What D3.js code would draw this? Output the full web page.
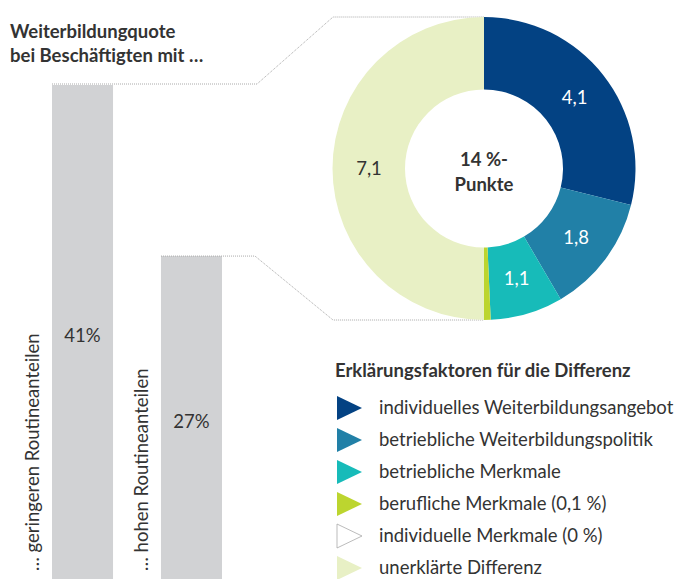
<!DOCTYPE html>
<html>
<head>
<meta charset="utf-8">
<script src="https://cdn.jsdelivr.net/npm/d3@7"></script>
<style>
  body { margin: 0; background: #fff; }
  text { font-family: "Source Sans Pro", "Lato", "Noto Sans", sans-serif; fill: #333; font-size: 18.5px; }
</style>
</head>
<body>
<script>
// bar data: quota by group
var groups = ["… geringeren Routineanteilen", "… hohen Routineanteilen"],
    quota = [41, 27];

// donut data: explanation factors for the difference
var factors = ["individuelles Weiterbildungsangebot", "betriebliche Weiterbildungspolitik",
               "betriebliche Merkmale", "berufliche Merkmale (0,1 %)",
               "individuelle Merkmale (0 %)", "unerklärte Differenz"],
    shares = [4.1, 1.8, 1.1, 0.1, 0, 7.1],
    colors = ["#034283", "#2180a7", "#17bbb9", "#bcd52f", "#ffffff", "#e8f0c5"];

var width = 681, height = 579;

var svg = d3.select("body").append("svg")
    .attr("width", width)
    .attr("height", height);

// title
svg.append("text")
    .attr("x", 10).attr("y", 38)
    .style("font-weight", "bold")
    .text("Weiterbildungquote");
svg.append("text")
    .attr("x", 10).attr("y", 62)
    .style("font-weight", "bold")
    .text("bei Beschäftigten mit  …");

// bars
var x = d3.scaleBand().domain(groups).range([52, 222]).paddingInner(0.44);
var y = d3.scaleLinear().domain([0, 41]).range([586, 85]);

svg.selectAll(".bar")
    .data(quota)
  .enter().append("rect")
    .attr("class", "bar")
    .attr("x", function(d, i) { return x(groups[i]); })
    .attr("y", function(d) { return y(d); })
    .attr("width", x.bandwidth())
    .attr("height", function(d) { return y(0) - y(d); })
    .style("fill", "#d1d2d4");

svg.selectAll(".barlabel")
    .data(quota)
  .enter().append("text")
    .attr("class", "barlabel")
    .attr("x", function(d, i) { return x(groups[i]) + x.bandwidth() / 2; })
    .attr("y", function(d, i) { return i == 0 ? 342 : 428; })
    .attr("text-anchor", "middle")
    .text(function(d) { return d + "%"; });

svg.selectAll(".grouplabel")
    .data(groups)
  .enter().append("text")
    .attr("class", "grouplabel")
    .attr("transform", function(d) { return "translate(" + (x(d) - 13) + ",571)rotate(-90)"; })
    .text(function(d) { return d; });

// donut
var cx = 484, cy = 168.5, outerR = 151.5, innerR = 79;

var pie = d3.pie().sort(null).value(function(d) { return d; });
var arc = d3.arc().innerRadius(innerR).outerRadius(outerR);
var labelArc = d3.arc().innerRadius(115).outerRadius(115);
var arcs = pie(shares);

// dotted connectors from the bars to the donut
var x0 = x(groups[0]), x1 = x(groups[1]);
var connectors = [
  [[x0, y(quota[0]) - 1], [257, y(quota[0]) - 1], [333, cy - outerR], [cx, cy - outerR]],
  [[x1, y(quota[1])], [255, y(quota[1])], [333, cy + outerR], [cx, cy + outerR]]
];
svg.selectAll(".connector")
    .data(connectors)
  .enter().append("path")
    .attr("class", "connector")
    .attr("d", d3.line())
    .style("fill", "none")
    .style("stroke", "#aaa")
    .style("stroke-width", 1)
    .style("stroke-dasharray", "1,1");

var donut = svg.append("g")
    .attr("transform", "translate(" + cx + "," + cy + ")");

donut.selectAll(".slice")
    .data(arcs)
  .enter().append("path")
    .attr("class", "slice")
    .attr("d", arc)
    .style("fill", function(d, i) { return colors[i]; });

donut.selectAll(".slicelabel")
    .data(arcs.filter(function(d) { return d.value >= 1; }))
  .enter().append("text")
    .attr("class", "slicelabel")
    .attr("transform", function(d) { return "translate(" + labelArc.centroid(d) + ")"; })
    .attr("text-anchor", "middle")
    .attr("dy", "0.35em")
    .style("fill", function(d) { return d.index == 5 ? "#333" : "#fff"; })
    .text(function(d) { return d3.format(".1f")(d.value).replace(".", ","); });

donut.append("text")
    .attr("text-anchor", "middle").attr("y", -3)
    .style("font-weight", "bold")
    .text("14 %-");
donut.append("text")
    .attr("text-anchor", "middle").attr("y", 22)
    .style("font-weight", "bold")
    .text("Punkte");

// legend
svg.append("text")
    .attr("x", 335).attr("y", 377)
    .style("font-weight", "bold")
    .text("Erklärungsfaktoren für die Differenz");

var ly = d3.scalePoint().domain(factors).range([408, 568]);

var legend = svg.selectAll(".legend")
    .data(factors)
  .enter().append("g")
    .attr("class", "legend")
    .attr("transform", function(d) { return "translate(337," + ly(d) + ")"; });

legend.append("path")
    .attr("d", "M0,-12L25,0L0,12Z")
    .style("fill", function(d, i) { return colors[i]; })
    .style("stroke", function(d, i) { return colors[i] == "#ffffff" ? "#aaa" : "none"; })
    .style("stroke-width", 0.8);

legend.append("text")
    .attr("x", 42)
    .attr("dy", "0.35em")
    .text(function(d) { return d; });
</script>
</body>
</html>
